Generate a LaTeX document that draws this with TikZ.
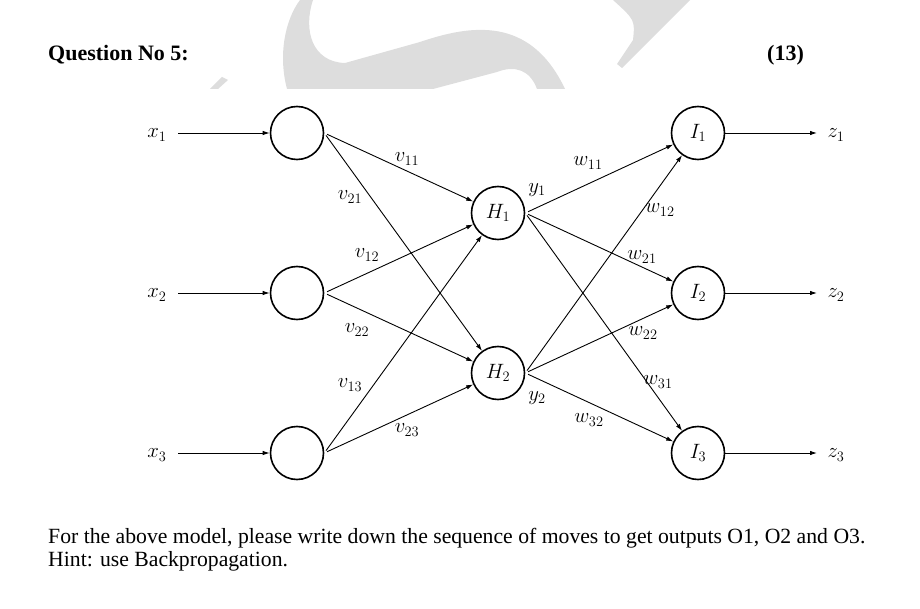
\documentclass[tikz,border=0pt]{standalone}
\usepackage{fontspec}
\setmainfont{Liberation Serif}
\usepackage{xcolor}
\usepackage{tikz}
\usetikzlibrary{positioning,arrows.meta}
\definecolor{wmark}{RGB}{221,221,221}
\tikzset{
  neuron/.style={circle, fill=white, draw=black, minimum size=53pt, inner sep=0pt, line width=1.6pt,
    font=\fontsize{22}{26}\selectfont},
  syn/.style={draw=black, line width=0.9pt, -{Latex[length=7pt,width=4.5pt]}, shorten <=3pt},
  feed/.style={draw=black, line width=0.9pt, -{Latex[length=7pt,width=4.5pt]}},
  wlbl/.style={font=\fontsize{22}{26}\selectfont, inner sep=1pt},
  txt/.style={font=\fontsize{21.7}{23}\selectfont, inner sep=0pt, anchor=base west},
  head/.style={font=\fontsize{22}{26}\selectfont\bfseries, inner sep=0pt, anchor=base west}
}

\begin{document}
\begin{tikzpicture}[x=1pt, y=-1pt]
    \useasboundingbox (0,0) rectangle (920,609);
    % watermark
    \fill[wmark] (300,0) -- (313,0) .. controls (303,30) and (312,62) .. (345,63) -- (420,42)
      .. controls (470,25) and (530,15) .. (565,89) -- (537,89) .. controls (530,70) and (515,65) .. (497,72)
      -- (433,89) -- (287,89) .. controls (278,55) and (285,20) .. (300,0) -- cycle;
    \fill[wmark] (613,0) .. controls (635,20) .. (633,40) -- (617,64) -- (622,68) -- (690,0) -- cycle;
    \fill[wmark] (210,89) -- (222,77) -- (228,80) -- (218,89) -- cycle;
    % header and question
    \node[head] (qno) at (48,61) {Question No 5:};
    \node[head] (marks) at (767,61) {(13)};
    \node[txt] (task) at (48,543) {For the above model, please write down the sequence of moves to get outputs O1, O2 and O3.};
    \node[txt] (hint) at (48,566) {Hint: use Backpropagation.};
    % layers
    \node[neuron] (in1) at (297,133) {};
    \node[neuron] (in2) at (297,293) {};
    \node[neuron] (in3) at (297,453) {};
    \node[neuron] (h1) at (498,213) {$H_1$};
    \node[neuron] (h2) at (498,373) {$H_2$};
    \node[neuron] (o1) at (698,133) {$I_1$};
    \node[neuron] (o2) at (698,293) {$I_2$};
    \node[neuron] (o3) at (698,453) {$I_3$};
    % inputs and outputs
    \node[wlbl] (x1) at (157,135) {$x_1$};
    \node[wlbl] (x2) at (157,295) {$x_2$};
    \node[wlbl] (x3) at (157,455) {$x_3$};
    \node[wlbl] (z1) at (836,135) {$z_1$};
    \node[wlbl] (z2) at (836,295) {$z_2$};
    \node[wlbl] (z3) at (836,455) {$z_3$};
    \coordinate (a1) at (178,133); \coordinate (a2) at (178,293); \coordinate (a3) at (178,453);
    \coordinate (b1) at (817,133); \coordinate (b2) at (817,293); \coordinate (b3) at (817,453);
    \draw[feed] (a1)--(in1); \draw[feed] (a2)--(in2); \draw[feed] (a3)--(in3);
    \draw[feed] (o1)--(b1); \draw[feed] (o2)--(b2); \draw[feed] (o3)--(b3);
    % first layer weights
    \draw[syn] (in1.east)--(h1); \draw[syn] (in1.east)--(h2);
    \draw[syn] (in2.east)--(h1); \draw[syn] (in2.east)--(h2);
    \draw[syn] (in3.east)--(h1); \draw[syn] (in3.east)--(h2);
    % second layer weights
    \draw[syn] (h1.east)--(o1); \draw[syn] (h1.east)--(o2); \draw[syn] (h1.east)--(o3);
    \draw[syn] (h2.east)--(o1); \draw[syn] (h2.east)--(o2); \draw[syn] (h2.east)--(o3);
    % labels
    \node[wlbl] (v11) at (407,159) {$v_{11}$};
    \node[wlbl] (v21) at (350,197) {$v_{21}$};
    \node[wlbl] (v12) at (367,255) {$v_{12}$};
    \node[wlbl] (v22) at (357,330) {$v_{22}$};
    \node[wlbl] (v13) at (350,385) {$v_{13}$};
    \node[wlbl] (v23) at (407,430) {$v_{23}$};
    \node[wlbl] (y1) at (537,190) {$y_1$};
    \node[wlbl] (y2) at (537,398) {$y_2$};
    \node[wlbl] (w11) at (588,163) {$w_{11}$};
    \node[wlbl] (w12) at (660,210) {$w_{12}$};
    \node[wlbl] (w21) at (642,257) {$w_{21}$};
    \node[wlbl] (w22) at (643,333) {$w_{22}$};
    \node[wlbl] (w31) at (658,382) {$w_{31}$};
    \node[wlbl] (w32) at (589,420) {$w_{32}$};
\end{tikzpicture}
\end{document}
